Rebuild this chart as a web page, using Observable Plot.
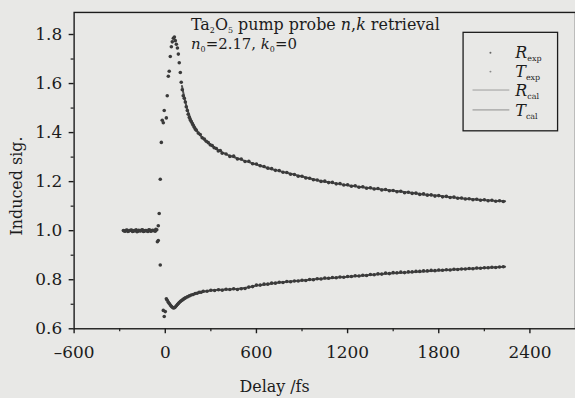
<!DOCTYPE html>
<html>
<head>
<meta charset="utf-8">
<script src="https://cdn.jsdelivr.net/npm/d3@7"></script>
<script src="https://cdn.jsdelivr.net/npm/@observablehq/plot@0.6"></script>
<style>
  html, body { margin: 0; padding: 0; background: #e8e8e6; overflow: hidden; }
  #chart { width: 575px; height: 398px; overflow: hidden; }
</style>
</head>
<body>
<div id="chart"></div>
<script>
// ---- data ----
const xTicks = [-600, 0, 600, 1200, 1800, 2400];
const xMinorTicks = [-300, 300, 900, 1500, 2100];
const yTicks = [0.6, 0.8, 1.0, 1.2, 1.4, 1.6, 1.8];
const yMinorTicks = [0.7, 0.9, 1.1, 1.3, 1.5, 1.7];

// R (reflection) experimental points
const rDelay = [-276,-264,-252,-240,-228,-216,-204,-192,-180,-168,-156,-144,-132,-120,-108,-96,-84,-72,-62,
  -46,-40,-33,-26,-20,-13,-7,7,13,20,26,33,40,46,53,60,66,73,80,86,92,99,105,112,118,125,132,138,145,151,158,164,171,178,184,191,197,204,
  217,230,243,257,270,283,296,309,322,336,349,362,375,400,425,450,475,500,525,550,575,600,625,650,675,700,725,750,775,800,825,850,875,900,925,950,975,
  1000,1025,1050,1075,1100,1125,1150,1175,1200,1225,1250,1275,1300,1325,1350,1375,1400,1425,1450,1475,1500,1525,1550,1575,1600,1625,1650,1675,1700,
  1725,1750,1775,1800,1825,1850,1875,1900,1925,1950,1975,2000,2025,2050,2075,2100,2125,2150,2175,2200,2225];
const rExp = [1.001,0.998,1.003,0.999,1.002,0.997,1.001,1.004,0.998,1.000,1.003,0.997,1.001,0.999,1.004,0.998,1.002,1.000,1.006,
  1.02,1.07,1.21,1.36,1.45,1.44,1.49,1.46,1.55,1.63,1.65,1.71,1.75,1.77,1.785,1.79,1.775,1.76,1.745,1.72,1.685,1.645,1.605,1.575,1.55,1.54,1.525,1.505,1.49,1.475,1.462,1.452,1.445,1.437,1.43,1.422,1.415,1.41,
  1.398,1.392,1.379,1.374,1.365,1.359,1.350,1.347,1.338,1.335,1.325,1.327,1.316,1.313,1.303,1.304,1.292,1.292,1.282,1.283,1.273,1.272,1.265,1.262,1.255,1.253,1.246,1.245,1.238,1.237,1.230,1.229,1.222,1.222,1.215,1.214,1.208,
  1.207,1.201,1.202,1.196,1.197,1.191,1.192,1.186,1.187,1.181,1.183,1.177,1.179,1.173,1.175,1.170,1.172,1.166,1.168,1.163,1.164,1.159,1.161,1.155,1.157,1.152,1.153,1.148,1.150,
  1.145,1.146,1.141,1.143,1.138,1.140,1.135,1.137,1.132,1.133,1.129,1.130,1.126,1.128,1.124,1.126,1.122,1.124,1.120,1.122,1.119];

// T (transmission) experimental points
const tDelay = [-270,-258,-246,-234,-222,-210,-198,-186,-174,-162,-150,-138,-126,-114,-102,-90,-78,-66,-56,
  -52,-46,-33,-13,-7,0,7,13,20,26,33,40,46,53,60,66,73,80,86,92,99,105,112,118,125,132,145,158,171,184,197,210,223,236,250,275,300,325,350,375,400,425,450,475,
  500,525,550,575,600,625,650,675,700,725,750,775,800,825,850,875,900,925,950,975,1000,1025,1050,1075,1100,1125,1150,1175,1200,1225,1250,1275,1300,1325,1350,1375,
  1400,1425,1450,1475,1500,1525,1550,1575,1600,1625,1650,1675,1700,1725,1750,1775,1800,1825,1850,1875,1900,1925,1950,1975,2000,2025,2050,2075,2100,2125,2150,2175,2200,2225];
const tExp = [0.999,1.002,0.997,1.001,1.003,0.998,1.000,0.996,1.002,0.999,1.004,0.998,1.001,0.997,1.003,0.999,1.001,0.998,1.004,
  0.955,0.96,0.86,0.675,0.65,0.67,0.722,0.716,0.708,0.703,0.697,0.692,0.688,0.685,0.686,0.689,0.694,0.699,0.703,0.707,0.711,0.714,0.717,0.720,0.723,0.726,0.730,0.734,0.738,0.740,0.744,0.745,0.749,0.749,0.753,0.753,0.757,0.756,0.759,0.757,0.761,0.760,0.763,0.760,
  0.763,0.764,0.770,0.772,0.778,0.778,0.782,0.782,0.786,0.786,0.790,0.789,0.793,0.792,0.795,0.795,0.798,0.797,0.801,0.800,0.804,0.803,0.807,0.806,0.809,0.808,0.811,0.810,0.813,0.813,0.816,0.815,0.818,0.817,0.821,0.820,
  0.824,0.823,0.827,0.825,0.829,0.828,0.831,0.829,0.832,0.832,0.834,0.834,0.836,0.836,0.838,0.837,0.840,0.839,0.841,0.840,0.843,0.842,0.844,0.844,0.846,0.845,0.848,0.847,0.849,0.849,0.851,0.850,0.852,0.853];

// calculated fits
const rCalDelay = [110,130,150,175,200,250,300,350,400,500,600,700,800,900,1000,1100,1200,1300,1400,1500,1600,1700,1800,1900,2000,2100,2200,2237];
const rCal = [1.59,1.53,1.485,1.445,1.415,1.375,1.35,1.328,1.312,1.29,1.27,1.251,1.236,1.221,1.206,1.195,1.185,1.177,1.17,1.163,1.156,1.148,1.142,1.135,1.129,1.125,1.121,1.12];
const tCalDelay = [20,40,55,70,90,120,150,200,250,300,400,500,600,700,800,900,1000,1200,1400,1600,1800,2000,2237];
const tCal = [0.71,0.693,0.686,0.69,0.705,0.72,0.732,0.744,0.751,0.756,0.76,0.764,0.776,0.785,0.792,0.797,0.803,0.812,0.822,0.83,0.838,0.845,0.853];

const rExpData = rDelay.map((d, i) => ({delay: d, v: rExp[i]}));
const tExpData = tDelay.map((d, i) => ({delay: d, v: tExp[i]}));
const rCalData = rCalDelay.map((d, i) => ({delay: d, v: rCal[i]}));
const tCalData = tCalDelay.map((d, i) => ({delay: d, v: tCal[i]}));

const FONT = "'DejaVu Serif', serif";
const INK = "#1c1c1c";

const plot = Plot.plot({
  width: 578,
  height: 398,
  marginLeft: 74,
  marginRight: 0,
  marginTop: 12,
  marginBottom: 68,
  style: {background: "transparent", fontFamily: FONT, color: INK},
  x: {domain: [-600, 2700]},
  y: {domain: [0.6, 1.89]},
  marks: [
    Plot.frame({stroke: INK, strokeWidth: 1.4}),
    Plot.axisX({ticks: xTicks, tickSize: 5, tickPadding: 12, fontSize: 17, tickFormat: d => d < 0 ? "\u2013" + Math.abs(d) : String(d), label: null, stroke: INK, strokeWidth: 1.4}),
    Plot.axisX({ticks: xMinorTicks, tickSize: 3, text: null, label: null, stroke: INK, strokeWidth: 1.2}),
    Plot.axisY({ticks: yTicks, tickSize: 5, tickPadding: 7, fontSize: 17, tickFormat: d => d.toFixed(1), label: null, stroke: INK, strokeWidth: 1.4}),
    Plot.axisY({ticks: yMinorTicks, tickSize: 3, text: null, label: null, stroke: INK, strokeWidth: 1.2}),
    Plot.line(rCalData, {x: "delay", y: "v", stroke: "#505050", strokeWidth: 2, curve: "monotone-x"}),
    Plot.line(tCalData, {x: "delay", y: "v", stroke: "#505050", strokeWidth: 2, curve: "monotone-x"}),
    Plot.dot(rExpData, {x: "delay", y: "v", r: 1.8, fill: "#3a3a3a", stroke: "none"}),
    Plot.dot(tExpData, {x: "delay", y: "v", r: 1.8, fill: "#3a3a3a", stroke: "none"})
  ]
});

document.getElementById("chart").appendChild(plot);

const svg = d3.select(plot);
const g = svg.append("g").attr("font-family", FONT).attr("fill", INK).attr("text-anchor", "start");

// axis titles
g.append("text").attr("x", 276).attr("y", 394).attr("text-anchor", "middle")
  .attr("font-size", 16).text("Delay /fs");
g.append("text").attr("transform", "translate(22,187) rotate(-90)").attr("text-anchor", "middle")
  .attr("font-size", 16).text("Induced sig.");

// annotation
const t1 = g.append("text").attr("x", 192).attr("y", 30).attr("font-size", 16);
t1.append("tspan").text("Ta");
t1.append("tspan").attr("font-size", 8).attr("dy", 3).text("2");
t1.append("tspan").attr("dy", -3).text("O");
t1.append("tspan").attr("font-size", 8).attr("dy", 3).text("5");
t1.append("tspan").attr("dy", -3).text(" pump probe ");
t1.append("tspan").attr("font-style", "italic").text("n");
t1.append("tspan").text(",");
t1.append("tspan").attr("font-style", "italic").text("k");
t1.append("tspan").text(" retrieval");

const t2 = g.append("text").attr("x", 192).attr("y", 49).attr("font-size", 15);
t2.append("tspan").attr("font-style", "italic").text("n");
t2.append("tspan").attr("font-size", 8).attr("dy", 3).text("0");
t2.append("tspan").attr("dy", -3).text("=2.17, ");
t2.append("tspan").attr("font-style", "italic").text("k");
t2.append("tspan").attr("font-size", 8).attr("dy", 3).text("0");
t2.append("tspan").attr("dy", -3).text("=0");

// legend
const lg = g.append("g");
lg.append("rect").attr("x", 465.5).attr("y", 32.5).attr("width", 95).attr("height", 99)
  .attr("fill", "none").attr("stroke", INK).attr("stroke-width", 1.3);
const entries = [
  {main: "R", sub: "exp", y: 58, kind: "dot", col: "#666"},
  {main: "T", sub: "exp", y: 77, kind: "dot", col: "#8a8a8a"},
  {main: "R", sub: "cal", y: 97, kind: "line", col: "#8a8a8a"},
  {main: "T", sub: "cal", y: 117, kind: "line", col: "#777"}
];
entries.forEach(e => {
  if (e.kind === "dot") {
    lg.append("circle").attr("cx", 493).attr("cy", e.y - 5).attr("r", 1).attr("fill", e.col);
  } else {
    lg.append("line").attr("x1", 475).attr("x2", 512).attr("y1", e.y - 6.5).attr("y2", e.y - 6.5)
      .attr("stroke", e.col).attr("stroke-width", 0.8);
  }
  const tx = lg.append("text").attr("x", 518).attr("y", e.y).attr("font-size", 16);
  tx.append("tspan").attr("font-style", "italic").text(e.main);
  tx.append("tspan").attr("font-size", 8).attr("dy", 3).text(e.sub);
});
</script>
</body>
</html>
